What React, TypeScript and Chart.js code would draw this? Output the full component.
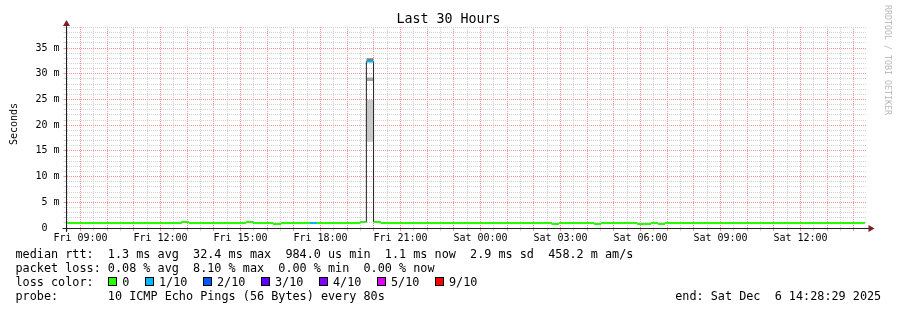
import React, { useEffect, useRef } from 'react';
import { Chart, registerables } from 'chart.js';

Chart.register(...registerables);

const MONO = "'DejaVu Sans Mono', monospace";

// time axis: hours since Fri 00:00
const START_H = 8 + 28 / 60 + 29 / 3600; // Fri 08:28:29
const END_H = START_H + 30; // Sat 14:28:29

const X_LABEL_HOURS = [9, 12, 15, 18, 21, 24, 27, 30, 33, 36];
const X_LABELS = ['Fri 09:00', 'Fri 12:00', 'Fri 15:00', 'Fri 18:00', 'Fri 21:00', 'Sat 00:00', 'Sat 03:00', 'Sat 06:00', 'Sat 09:00', 'Sat 12:00'];

const Y_MAX = 39.1; // ms
const Y_LABEL_VALUES = [0, 5, 10, 15, 20, 25, 30, 35];
const Y_LABELS = ['0  ', '5 m', '10 m', '15 m', '20 m', '25 m', '30 m', '35 m'];

// median rtt, step data: each step starts at segStart[i] (hours) and lasts until the next
const segStart = [8.4747, 12.79, 13.07, 15.21, 15.48, 16.22, 16.52, 17.61, 17.86, 19.48, 19.72, 19.99, 20.26, 26.67, 26.94, 28.26, 28.52, 29.87, 30.39, 30.65, 30.91];
const segEnd = 38.41;
const medianMs = [0.97, 1.17, 0.97, 1.17, 0.97, 0.78, 0.97, 0.97, 0.97, 1.17, 32.4, 1.17, 0.97, 0.78, 0.97, 0.78, 0.97, 0.78, 0.97, 0.78, 0.97];
const lossTenths = [0, 0, 0, 0, 0, 0, 0, 1, 0, 0, 1, 0, 0, 0, 0, 0, 0, 0, 0, 0, 0];

// smoke (ping spread) at the spike
const smokeFrom = 19.72;
const smokeTo = 19.99;
const smokeLow = [16.8, 28.6, 32.45];
const smokeHigh = [24.9, 29.3, 33.0];
const smokeShades = ['#c9c9c9', '#a4a4a4', '#7e7e7e'];

// legend
const lossLegendLabels = ['0', '1/10', '2/10', '3/10', '4/10', '5/10', '9/10'];
const lossLegendTenths = [0, 1, 2, 3, 4, 5, 9];
const lossColorOf: Record<number, string> = {
  0: '#26ff00', 1: '#00b8ff', 2: '#0059ff', 3: '#5e00ff', 4: '#7e00ff', 5: '#dd00ff', 9: '#ff0000',
};
const medianStats = ['1.3 ms avg', '32.4 ms max', '984.0 us min', '1.1 ms now', '2.9 ms sd', '458.2 m am/s'];
const lossStats = ['0.08 % avg', '8.10 % max', '0.00 % min', '0.00 % now'];
const probeText = '10 ICMP Echo Pings (56 Bytes) every 80s';
const endText = 'end: Sat Dec  6 14:28:29 2025';
const titleText = 'Last 30 Hours';
const yTitle = 'Seconds';
const watermark = 'RRDTOOL / TOBI OETIKER';

const MAJOR = 'rgb(248,145,145)';
const MINOR = 'rgb(210,210,210)';

const isHour = (v: number) => Math.abs(v - Math.round(v)) < 1e-6;
const isFive = (v: number) => Math.abs(v / 5 - Math.round(v / 5)) < 1e-6;

const axesPlugin = {
  id: 'rrdAxes',
  afterDatasetsDraw(chart: any) {
    const { ctx, chartArea: a } = chart;
    const y0 = Math.floor(a.bottom) + 0.5;
    const x0 = Math.floor(a.left) + 0.5;
    ctx.save();
    ctx.strokeStyle = '#1f1f1f';
    ctx.lineWidth = 1;
    ctx.beginPath();
    ctx.moveTo(a.left - 4, y0);
    ctx.lineTo(a.right + 3, y0);
    ctx.moveTo(x0, a.bottom + 4);
    ctx.lineTo(x0, a.top - 3);
    ctx.stroke();
    ctx.fillStyle = 'rgb(128,31,31)';
    ctx.beginPath();
    ctx.moveTo(a.right + 2, y0 - 3.5);
    ctx.lineTo(a.right + 8, y0);
    ctx.lineTo(a.right + 2, y0 + 3.5);
    ctx.closePath();
    ctx.fill();
    ctx.beginPath();
    ctx.moveTo(x0 - 3.5, a.top - 1);
    ctx.lineTo(x0, a.top - 7);
    ctx.lineTo(x0 + 3.5, a.top - 1);
    ctx.closePath();
    ctx.fill();
    ctx.restore();
  },
};

function buildDatasets() {
  const ds: any[] = [];
  // smoke bands
  smokeLow.forEach((lo, i) => {
    ds.push({
      data: [{ x: smokeFrom, y: smokeHigh[i] }, { x: smokeTo, y: smokeHigh[i] }],
      borderColor: 'rgba(0,0,0,0)',
      borderWidth: 0,
      backgroundColor: smokeShades[i],
      fill: { target: { value: lo }, above: smokeShades[i], below: smokeShades[i] },
      pointRadius: 0,
      order: 5,
    });
  });
  // black median line (stepped)
  const pts = segStart.map((s, i) => ({ x: s, y: medianMs[i] }));
  pts.push({ x: segEnd, y: medianMs[medianMs.length - 1] });
  ds.push({
    data: pts,
    stepped: 'before',
    borderColor: '#202020',
    borderWidth: 1,
    pointRadius: 0,
    fill: false,
    order: 2,
  });
  // loss-coloured median bars
  const levels = Array.from(new Set(lossTenths));
  levels.forEach((lvl) => {
    const d: any[] = [];
    segStart.forEach((s, i) => {
      if (lossTenths[i] !== lvl) return;
      const e = i + 1 < segStart.length ? segStart[i + 1] : segEnd;
      d.push({ x: s, y: medianMs[i] }, { x: e, y: medianMs[i] }, { x: e, y: null });
    });
    ds.push({
      data: d,
      borderColor: lossColorOf[lvl],
      borderWidth: 2,
      borderCapStyle: 'butt',
      pointRadius: 0,
      fill: false,
      spanGaps: false,
      order: 0,
    });
  });
  return ds;
}

export default function App() {
  const ref = useRef<HTMLCanvasElement>(null);

  useEffect(() => {
    const canvas = ref.current!;
    const chart = new Chart(canvas, {
      type: 'line',
      data: { datasets: buildDatasets() },
      options: {
        animation: false,
        responsive: false,
        devicePixelRatio: 1,
        events: [],
        layout: { padding: { left: 0, right: 30.5, top: 27, bottom: 62 } },
        plugins: { legend: { display: false }, tooltip: { enabled: false }, title: { display: false } },
        elements: { line: { tension: 0 } },
        scales: {
          x: {
            type: 'linear',
            min: START_H,
            max: END_H,
            afterFit(scale: any) { scale.height = 20; },
            afterBuildTicks(scale: any) {
              const t: any[] = [];
              for (let h = Math.ceil(START_H * 2) / 2; h <= END_H; h += 0.5) t.push({ value: h });
              scale.ticks = t;
            },
            ticks: {
              autoSkip: false,
              maxRotation: 0,
              minRotation: 0,
              padding: 1,
              color: '#000',
              font: { family: MONO, size: 10 },
              callback: (v: any) => {
                const k = X_LABEL_HOURS.indexOf(Number(v));
                return k >= 0 ? X_LABELS[k] : '';
              },
            },
            grid: {
              drawTicks: true,
              tickLength: 3,
              color: (c: any) => (c.tick && isHour(c.tick.value) ? MAJOR : MINOR),
              tickColor: (c: any) => (c.tick && isHour(c.tick.value) ? MAJOR : MINOR),
            },
            border: { display: false, dash: [1, 1] },
          },
          y: {
            type: 'linear',
            min: 0,
            max: Y_MAX,
            afterFit(scale: any) { scale.width = 66.5; },
            afterBuildTicks(scale: any) {
              const t: any[] = [];
              for (let v = 0; v <= Y_MAX; v += 1) t.push({ value: v });
              scale.ticks = t;
            },
            ticks: {
              autoSkip: false,
              padding: 4,
              color: '#000',
              font: { family: MONO, size: 10 },
              callback: (v: any) => {
                const k = Y_LABEL_VALUES.indexOf(Number(v));
                return k >= 0 ? Y_LABELS[k] : '';
              },
            },
            grid: {
              drawTicks: true,
              tickLength: 3,
              color: (c: any) => (c.tick && isFive(c.tick.value) ? MAJOR : MINOR),
              tickColor: (c: any) => (c.tick && isFive(c.tick.value) ? MAJOR : MINOR),
            },
            border: { display: false, dash: [1, 1] },
          },
        },
      } as any,
      plugins: [axesPlugin],
    });
    return () => chart.destroy();
  }, []);

  const row: React.CSSProperties = {
    position: 'absolute',
    left: 15.5,
    whiteSpace: 'pre',
    lineHeight: '14px',
    fontSize: '11.8px',
    fontFamily: MONO,
    color: '#000',
  };

  return (
    <div style={{ position: 'absolute', left: 0, top: 0, width: 897, height: 310, background: '#fff', overflow: 'hidden' }}>
      <canvas ref={ref} width={897} height={310} style={{ position: 'absolute', left: 0, top: 0, width: 897, height: 310 }} />
      <div style={{ position: 'absolute', left: 0, top: 11, width: 897, textAlign: 'center', fontFamily: MONO, fontSize: '13.3px', lineHeight: '15px', color: '#000', whiteSpace: 'pre' }}>{titleText}</div>
      <div style={{ position: 'absolute', left: -16.2, top: 118, width: 60, height: 12, textAlign: 'center', fontFamily: MONO, fontSize: '10px', lineHeight: '12px', color: '#000', transform: 'rotate(-90deg)' }}>{yTitle}</div>
      <div style={{ position: 'absolute', left: 888 - 60, top: 60 - 5, width: 120, height: 10, textAlign: 'center', fontFamily: MONO, fontSize: '8.3px', lineHeight: '10px', color: 'rgba(0,0,0,0.3)', transform: 'rotate(90deg)', transformOrigin: '60px 5px', whiteSpace: 'pre' }}>{watermark}</div>
      <div style={{ ...row, top: 247.2 }}>{'median rtt:  ' + medianStats.join('  ')}</div>
      <div style={{ ...row, top: 261.2 }}>{'packet loss: ' + lossStats.join('  ')}</div>
      <div style={{ ...row, top: 275.2 }}>
        <span>{'loss color:  '}</span>
        {lossLegendLabels.map((lab, i) => (
          <React.Fragment key={lab}>
            <span style={{ display: 'inline-block', width: 9, height: 9, boxSizing: 'border-box', border: '1px solid #000', background: lossColorOf[lossLegendTenths[i]], marginRight: 5.4 }} />
            <span style={{ marginRight: 15.2 }}>{lab}</span>
          </React.Fragment>
        ))}
      </div>
      <div style={{ ...row, top: 289.2 }}>{'probe:       ' + probeText}</div>
      <div style={{ ...row, left: 'auto', right: 15.8, top: 289.2 }}>{endText}</div>
    </div>
  );
}
